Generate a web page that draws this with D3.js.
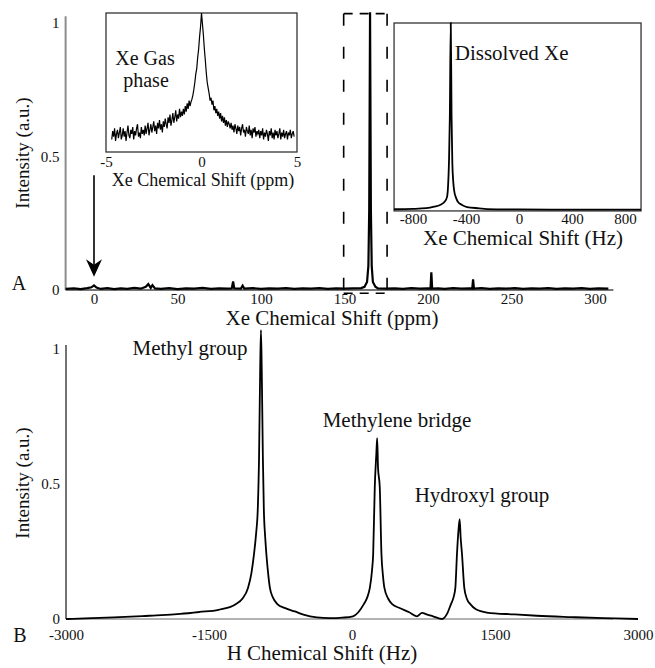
<!DOCTYPE html>
<meta charset="utf-8">
<script src="https://d3js.org/d3.v7.min.js"></script>
<style>
  body { margin: 0; background: #fff; }
  text { font-family: "Liberation Serif", "Times New Roman", serif; fill: #111; }
  .tick text { font-size: 15px; }
</style>
<body>
<div id="my_dataviz"></div>
<script>
// ---- panel A, main Xe spectrum (ppm, a.u.) ----
var xeShift = [-17, -12, -8, -4, -1.5, 0, 1.5, 4, 8, 12, 16, 20, 24, 28, 31, 32.5, 34, 35, 36.5, 40,
  45, 50, 55, 60, 65, 70, 75, 80, 82.5, 83.3, 84, 88, 89, 90, 95, 100, 105, 110, 115, 120,
  125, 130, 135, 140, 145, 150, 155, 160, 162, 163.5, 164.3, 164.8, 165.3, 165.8, 166.3, 167, 168.5, 170,
  175, 180, 185, 190, 195, 200, 201.5, 202, 202.5, 206, 210, 215, 220, 225, 226.5, 227, 227.5,
  232, 237, 242, 247, 252, 257, 262, 267, 272, 277, 282, 287, 292, 297, 302, 308]
var xeIntensity = [0.004, 0.006, 0.003, 0.007, 0.010, 0.017, 0.009, 0.004, 0.007, 0.003, 0.006, 0.004, 0.008, 0.005, 0.012, 0.022, 0.008, 0.018, 0.006, 0.004,
  0.007, 0.003, 0.006, 0.005, 0.008, 0.004, 0.006, 0.005, 0.006, 0.032, 0.006, 0.005, 0.016, 0.005, 0.007, 0.004, 0.006, 0.005, 0.007, 0.004,
  0.006, 0.005, 0.007, 0.004, 0.006, 0.005, 0.006, 0.007, 0.012, 0.030, 0.090, 0.300, 1.040, 0.300, 0.090, 0.030, 0.012, 0.006,
  0.005, 0.006, 0.004, 0.007, 0.005, 0.006, 0.005, 0.066, 0.005, 0.006, 0.004, 0.007, 0.005, 0.006, 0.005, 0.040, 0.005,
  0.007, 0.004, 0.006, 0.005, 0.007, 0.004, 0.006, 0.005, 0.007, 0.004, 0.006, 0.005, 0.007, 0.004, 0.006, 0.005]
var xeTicks = [0, 50, 100, 150, 200, 250, 300]

// ---- inset: Xe gas phase (ppm, sampled every 0.05 ppm from -4.7) ----
var gasStart = -4.7, gasStep = 0.05
var gasIntensity = [
  0.09, 0.15, 0.11, 0.17, 0.08, 0.13, 0.16, 0.10, 0.14, 0.18, 0.09, 0.12, 0.17, 0.11, 0.15, 0.08, 0.14, 0.19,
  0.12, 0.10, 0.16, 0.13, 0.18, 0.09, 0.15, 0.12, 0.17, 0.20, 0.11, 0.14, 0.10, 0.18, 0.13, 0.16, 0.12,
  0.19, 0.13, 0.17, 0.21, 0.12, 0.16, 0.20, 0.14, 0.18, 0.22, 0.15, 0.19, 0.13, 0.21, 0.17, 0.23, 0.16, 0.20, 0.14, 0.22,
  0.18, 0.24, 0.20, 0.17, 0.25, 0.21, 0.27, 0.19, 0.23, 0.28, 0.21, 0.25, 0.30, 0.22, 0.27, 0.24, 0.31, 0.25, 0.29, 0.26,
  0.31, 0.27, 0.33, 0.29, 0.35, 0.31, 0.37, 0.33, 0.36,
  0.38, 0.41, 0.45, 0.50, 0.56, 0.60, 0.68, 0.74, 0.83, 0.90, 1.00, 0.92, 0.84, 0.74, 0.66, 0.57, 0.50, 0.46, 0.42, 0.37, 0.39,
  0.34, 0.37, 0.30, 0.33, 0.28, 0.31, 0.26, 0.29, 0.24, 0.28, 0.22, 0.26, 0.21, 0.25, 0.19, 0.23, 0.18, 0.22, 0.20, 0.17,
  0.21, 0.16, 0.19, 0.14, 0.20, 0.17, 0.13, 0.19, 0.15, 0.18, 0.12, 0.17, 0.20, 0.14, 0.16, 0.11, 0.18, 0.15, 0.13, 0.19,
  0.12, 0.16, 0.10, 0.17, 0.14, 0.18, 0.11, 0.15, 0.13, 0.16,
  0.10, 0.15, 0.12, 0.17, 0.09, 0.14, 0.11, 0.16, 0.13, 0.08, 0.15, 0.12, 0.17, 0.10, 0.14, 0.09, 0.16, 0.12, 0.15,
  0.10, 0.13, 0.17, 0.09, 0.14, 0.11, 0.16, 0.10, 0.13, 0.15, 0.09, 0.14, 0.12, 0.16, 0.10, 0.13, 0.15, 0.11]
var gasTicks = [-5, 0, 5]

// ---- inset: dissolved Xe (Hz) ----
var dissShift = [-943, -800, -700, -640, -596, -560, -543, -536, -528, -522, -515, -509, -503, -496, -490,
  -475, -460, -430, -392, -300, -242, 0, 400, 921]
var dissIntensity = [0.004, 0.006, 0.010, 0.018, 0.027, 0.045, 0.070, 0.120, 0.270, 0.500, 1.000, 0.500, 0.250, 0.150, 0.107,
  0.065, 0.043, 0.027, 0.016, 0.009, 0.005, 0.003, 0.002, 0.002]
var dissTicks = [-800, -400, 0, 400, 800]

// ---- panel B, 1H spectrum (Hz, a.u.) ----
var hShift = [-3000, -2800, -2500, -2200, -2000, -1800, -1600, -1400, -1220, -1150, -1091, -1055, -1028, -1005, -988,
  -975, -963, -955, -947, -935, -925, -910, -898, -880, -861, -830, -783, -700, -600, -500, -370, -230,
  -100, 10, 124, 160, 187, 210, 222, 239, 255, 264, 273, 291, 309, 325, 340, 380, 421, 505, 600, 680,
  735, 790, 850, 945, 995, 1038, 1065, 1084, 1101, 1115, 1129, 1140, 1154, 1178, 1205, 1241, 1300, 1415,
  1700, 1940, 2300, 2640, 3000]
var hIntensity = [0.000, 0.002, 0.006, 0.011, 0.014, 0.019, 0.026, 0.034, 0.055, 0.075, 0.115, 0.170, 0.240, 0.320, 0.410,
  0.600, 0.930, 1.070, 0.930, 0.600, 0.410, 0.300, 0.240, 0.170, 0.115, 0.080, 0.055, 0.040, 0.028, 0.015, 0.006, 0.003,
  0.005, 0.010, 0.055, 0.080, 0.115, 0.180, 0.240, 0.490, 0.610, 0.670, 0.560, 0.490, 0.240, 0.160, 0.115, 0.075, 0.055, 0.040, 0.025, 0.010,
  0.023, 0.016, 0.010, 0.000, 0.018, 0.055, 0.080, 0.115, 0.240, 0.320, 0.370, 0.300, 0.240, 0.115, 0.075, 0.055, 0.036, 0.024,
  0.017, 0.012, 0.007, 0.003, 0.000]
var hTicks = [-3000, -1500, 0, 1500, 3000]

var intensityTicks = [0, 0.5, 1]

var width = 655, height = 668

var svg = d3.select("#my_dataviz")
  .append("svg")
  .attr("width", width)
  .attr("height", height)

var fmt = function(d) { return String(d) }

// scales
var xA = d3.scaleLinear().domain([0, 300]).range([94, 595])
var yA = d3.scaleLinear().domain([0, 1]).range([290, 23])
var xG = d3.scaleLinear().domain([-5, 5]).range([106, 297])
var yG = d3.scaleLinear().domain([0, 1]).range([152, 13])
var xD = d3.scaleLinear().domain([-800, 800]).range([413, 625])
var yD = d3.scaleLinear().domain([0, 1]).range([210, 23])
var xB = d3.scaleLinear().domain([-3000, 3000]).range([66, 638])
var yB = d3.scaleLinear().domain([0, 1]).range([619, 349])

// helper: axis with labels only
function bottomAxis(scale, ticks, y, pad) {
  var g = svg.append("g")
    .attr("transform", "translate(0," + y + ")")
    .call(d3.axisBottom(scale).tickValues(ticks).tickFormat(fmt).tickSize(0).tickPadding(pad))
  g.select(".domain").remove()
  return g
}
function leftAxis(scale, ticks, x, pad) {
  var g = svg.append("g")
    .attr("transform", "translate(" + x + ",0)")
    .call(d3.axisLeft(scale).tickValues(ticks).tickFormat(fmt).tickSize(0).tickPadding(pad))
  g.select(".domain").remove()
  return g
}
function hline(x1, x2, y, color, w) {
  svg.append("line").attr("x1", x1).attr("x2", x2).attr("y1", y).attr("y2", y)
    .attr("stroke", color).attr("stroke-width", w)
}
function vline(x, y1, y2, color, w) {
  svg.append("line").attr("x1", x).attr("x2", x).attr("y1", y1).attr("y2", y2)
    .attr("stroke", color).attr("stroke-width", w)
}
function label(txt, x, y, size, anchor) {
  return svg.append("text").attr("x", x).attr("y", y).attr("dy", "0.35em")
    .attr("text-anchor", anchor || "middle").style("font-size", size + "px").text(txt)
}

// ================= panel A =================
vline(xA(-17), yA(0), yA(1.025), "#8c8c8c", 2)
hline(xA(-17), xA(311), yA(0), "#777", 2)
leftAxis(yA, intensityTicks, xA(-17), 6)
bottomAxis(xA, xeTicks, yA(0), 3)

svg.append("path")
  .datum(d3.zip(xeShift, xeIntensity))
  .attr("fill", "none")
  .attr("stroke", "#000")
  .attr("stroke-width", 2.2)
  .attr("d", d3.line().x(function(d) { return xA(d[0]) }).y(function(d) { return yA(d[1]) }))

// dashed zoom box round the dissolved peak
var boxL = xA(149.5), boxR = xA(175.5), boxT = yA(1.035), boxB = yA(-0.012)
svg.append("g").selectAll("line")
  .data([[boxL, boxT, boxL, boxB], [boxR, boxT, boxR, boxB]])
  .enter().append("line")
  .attr("x1", function(d) { return d[0] }).attr("y1", function(d) { return d[1] })
  .attr("x2", function(d) { return d[2] }).attr("y2", function(d) { return d[3] })
  .attr("stroke", "#000").attr("stroke-width", 1.6).attr("stroke-dasharray", "12,21")
svg.append("g").selectAll("line")
  .data([[boxL, boxT, boxR, boxT], [boxL, boxB, boxR, boxB]])
  .enter().append("line")
  .attr("x1", function(d) { return d[0] }).attr("y1", function(d) { return d[1] })
  .attr("x2", function(d) { return d[2] }).attr("y2", function(d) { return d[3] })
  .attr("stroke", "#000").attr("stroke-width", 1.6).attr("stroke-dasharray", "9,7")

// arrow pointing at the gas peak
vline(xA(0), yA(0.43), yA(0.08), "#000", 1.6)
svg.append("path")
  .attr("d", "M" + xA(0) + "," + yA(0.05) + "L" + (xA(0) - 8) + "," + yA(0.115) +
    "L" + xA(0) + "," + yA(0.095) + "L" + (xA(0) + 8) + "," + yA(0.115) + "Z")
  .attr("fill", "#000")

label("Intensity (a.u.)", 0, 0, 19).attr("transform", "translate(22,153) rotate(-90)")
label("A", 19, 283, 20)
label("Xe Chemical Shift (ppm)", 332, 318, 21)

// ---- gas phase inset ----
svg.append("rect").attr("x", xG(-5)).attr("y", yG(1)).attr("width", xG(5) - xG(-5)).attr("height", yG(0) - yG(1))
  .attr("fill", "#fff").attr("stroke", "#333").attr("stroke-width", 1.3)
svg.append("path")
  .datum(gasIntensity)
  .attr("fill", "none")
  .attr("stroke", "#000")
  .attr("stroke-width", 1.2)
  .attr("d", d3.line().x(function(d, i) { return xG(gasStart + i * gasStep) }).y(function(d) { return yG(d) }))
bottomAxis(xG, gasTicks, yG(0), 4)
label("Xe Chemical Shift (ppm)", 203, 180, 18)
label("Xe Gas", 145, 58, 20)
label("phase", 146, 80, 20)

// ---- dissolved inset ----
svg.append("rect").attr("x", xD(-943)).attr("y", yD(1)).attr("width", xD(921) - xD(-943)).attr("height", yD(-0.005) - yD(1))
  .attr("fill", "#fff").attr("stroke", "#333").attr("stroke-width", 1.3)
svg.append("path")
  .datum(d3.zip(dissShift, dissIntensity))
  .attr("fill", "none")
  .attr("stroke", "#000")
  .attr("stroke-width", 1.8)
  .attr("d", d3.line().curve(d3.curveMonotoneX).x(function(d) { return xD(d[0]) }).y(function(d) { return yD(d[1]) }))
bottomAxis(xD, dissTicks, yD(-0.005), 2)
label("Xe Chemical Shift (Hz)", 523, 238, 21)
label("Dissolved Xe", xD(-485), 53, 21, "start")

// ================= panel B =================
vline(xB(-3000), yB(0), yB(1.015), "#444", 1.5)
hline(xB(-3000), xB(2740), yB(0), "#999", 1.5)
leftAxis(yB, intensityTicks, xB(-3000), 6)
bottomAxis(xB, hTicks, yB(0), 10)

svg.append("path")
  .datum(d3.zip(hShift, hIntensity))
  .attr("fill", "none")
  .attr("stroke", "#000")
  .attr("stroke-width", 1.8)
  .attr("d", d3.line().curve(d3.curveMonotoneX).x(function(d) { return xB(d[0]) }).y(function(d) { return yB(d[1]) }))

label("Methyl group", 190, 348, 21)
label("Methylene bridge", 397, 420, 21)
label("Hydroxyl group", 482, 495, 21)
label("Intensity (a.u.)", 0, 0, 19).attr("transform", "translate(22,483) rotate(-90)")
label("B", 20, 635, 20)
label("H Chemical Shift (Hz)", 322, 653, 21)
</script>
</body>
